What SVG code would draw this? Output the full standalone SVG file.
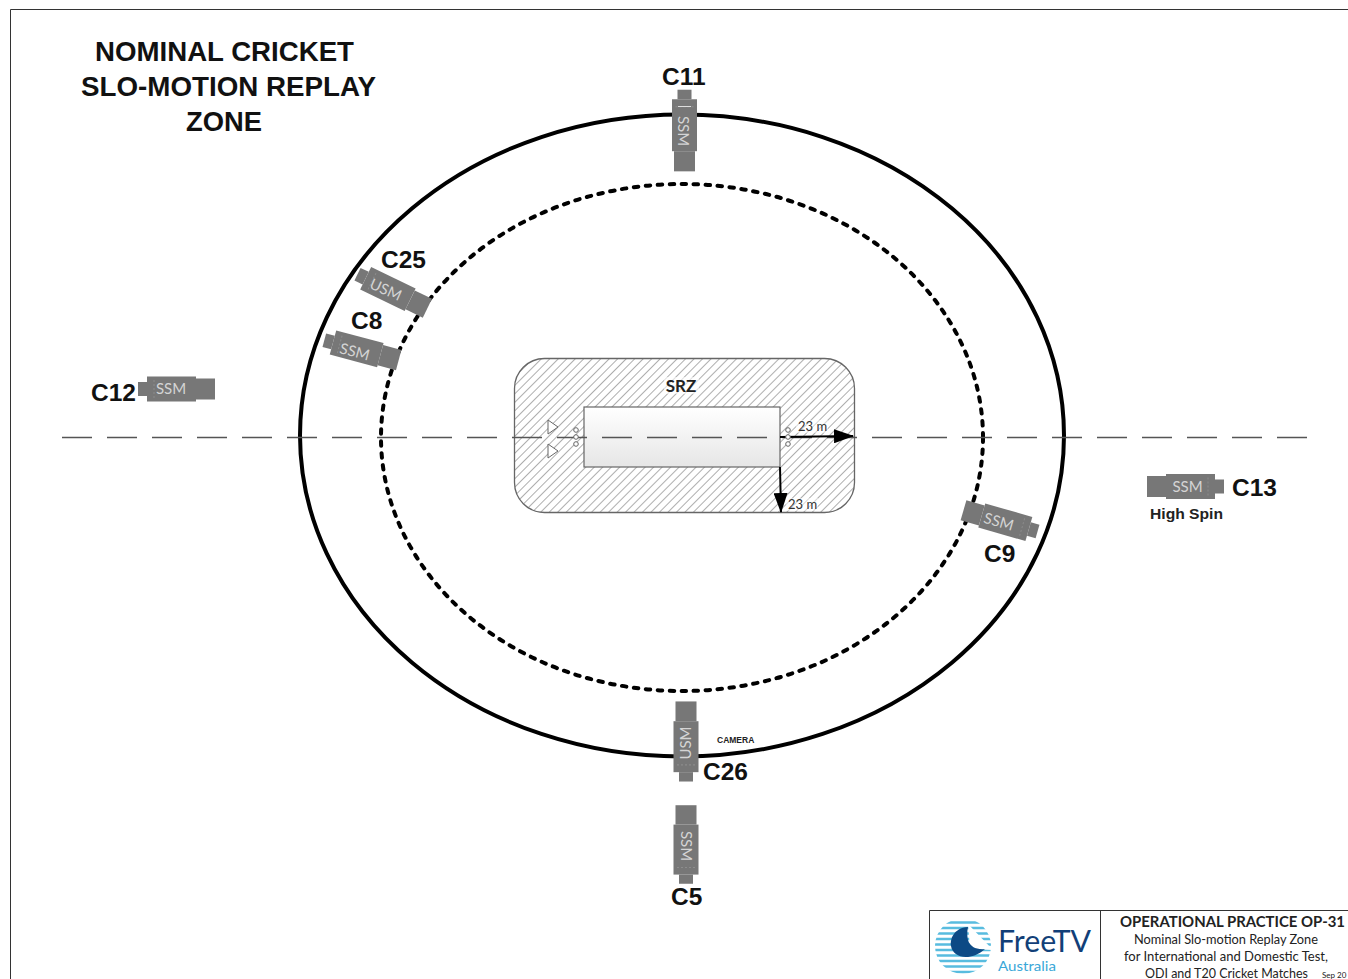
<svg xmlns="http://www.w3.org/2000/svg" width="1348" height="979" viewBox="0 0 1348 979">
<style>
.lab{font-family:"Liberation Sans",Arial,sans-serif;font-weight:700;font-size:24.500px;fill:#111}
.title{font-family:"Liberation Sans",Arial,sans-serif;font-weight:700;font-size:27px;fill:#111}
.cam{font-family:"Lato","Liberation Sans",sans-serif;font-size:15px;fill:#d4d4d4;text-anchor:middle;dominant-baseline:central}
.tb{font-family:"Lato","Noto Sans",sans-serif;font-size:13.500px;fill:#222}
.dim{font-family:"Lato","Liberation Sans",sans-serif;font-size:13px;fill:#333}
.body{fill:#777}
.seam{stroke:#8c8c8c;stroke-width:1;stroke-dasharray:2 2;fill:none}
</style>
<defs>
<pattern id="hatch" width="6" height="6" patternUnits="userSpaceOnUse" patternTransform="rotate(45)">
<line x1="0" y1="0" x2="0" y2="6" stroke="#777" stroke-width="1.200"/>
</pattern>
<linearGradient id="inner" x1="0" y1="0" x2="0" y2="1"><stop offset="0" stop-color="#fff"/><stop offset="1" stop-color="#e6e6e6"/></linearGradient>
<clipPath id="globeclip"><circle cx="963" cy="946" r="28"/></clipPath>
<marker id="ah" markerWidth="20" markerHeight="14" refX="19" refY="7" orient="auto" markerUnits="userSpaceOnUse"><path d="M0 0L20 7L0 14Z" fill="#000"/></marker>
<g id="camera">
<rect x="-39" y="-10.500" width="19" height="21" class="body"/>
<rect x="-20" y="-12.500" width="49" height="25" class="body"/>
<rect x="29" y="-7" width="9" height="14" class="body"/>
<line x1="22" y1="-9" x2="22" y2="9" class="seam"/>
</g>
</defs>

<g id="frame" fill="none" stroke="#333" stroke-width="1">
<path d="M10.500 979V9.500H1348"/>
</g>

<g id="title">
<text class="title" x="95" y="61" textLength="259" lengthAdjust="spacingAndGlyphs">NOMINAL CRICKET</text>
<text class="title" x="81" y="96" textLength="295" lengthAdjust="spacingAndGlyphs">SLO-MOTION REPLAY</text>
<text class="title" x="186" y="131" textLength="76" lengthAdjust="spacingAndGlyphs">ZONE</text>
</g>

<g id="srz">
<rect x="514.500" y="358.500" width="340" height="154" rx="30" fill="#fff"/>
<rect x="514.500" y="358.500" width="340" height="154" rx="30" fill="url(#hatch)" stroke="#666" stroke-width="1.300"/>
<rect x="584" y="407" width="196" height="60" fill="url(#inner)" stroke="#666" stroke-width="1.200"/>
<rect x="664" y="377" width="35" height="17" fill="#fff" fill-opacity="0.6"/>
<text x="681" y="392" font-family="Lato,'Liberation Sans',sans-serif" font-weight="700" font-size="17" fill="#222" text-anchor="middle">SRZ</text>
<rect x="796" y="420" width="32" height="13" fill="#fff" fill-opacity="0.5"/>
<rect x="786" y="498" width="32" height="13" fill="#fff" fill-opacity="0.5"/>
<text class="dim" x="798" y="431">23 m</text>
<text class="dim" x="788" y="509">23 m</text>
</g>

<g id="connectors" fill="none">
<ellipse id="outer-boundary" cx="682" cy="435.500" rx="382" ry="321" stroke="#000" stroke-width="4"/>
<ellipse id="inner-circle" cx="682" cy="437.500" rx="301" ry="253.500" stroke="#000" stroke-width="4" stroke-dasharray="4.500 7.500" stroke-linecap="round"/>
<line x1="62" y1="437.500" x2="1308" y2="437.500" stroke="#555" stroke-width="1.300" stroke-dasharray="30 15"/>
<line x1="780" y1="437" x2="853" y2="436" stroke="#000" stroke-width="2" marker-end="url(#ah)"/>
<line x1="780" y1="467" x2="781" y2="512" stroke="#000" stroke-width="2" marker-end="url(#ah)"/>
</g>

<g id="srz-marks" fill="#fff" stroke="#666" stroke-width="1">
<path d="M548 420L558 427L548 434Z"/><path d="M548 444L558 451L548 458Z"/>
<circle cx="576" cy="430" r="2.300"/><circle cx="576" cy="437" r="2.300"/><circle cx="576" cy="444" r="2.300"/>
<circle cx="788" cy="430" r="2.300"/><circle cx="788" cy="437" r="2.300"/><circle cx="788" cy="444" r="2.300"/>
</g>

<g id="C11">
<use href="#camera" transform="translate(684.500,130) rotate(-90) scale(1.060,1)"/>
<line x1="678" y1="106.500" x2="691" y2="106.500" stroke="#ddd" stroke-width="1"/>
<text class="cam" transform="translate(684,131) rotate(90)">SSM</text>
<text class="lab" x="662" y="85">C11</text>
</g>
<g id="C25">
<use href="#camera" transform="translate(392,291) rotate(26) scale(-1.010,1)"/>
<text class="cam" transform="translate(386,289) rotate(24)">USM</text>
<text class="lab" x="381" y="268">C25</text>
</g>
<g id="C8">
<use href="#camera" transform="translate(361,350) rotate(15) scale(-1,1)"/>
<text class="cam" transform="translate(355,351) rotate(15)">SSM</text>
<text class="lab" x="351" y="329">C8</text>
</g>
<g id="C12">
<use href="#camera" transform="translate(176,389) scale(-1,1)"/>
<text class="cam" x="171" y="388">SSM</text>
<text class="lab" x="91" y="401">C12</text>
</g>
<g id="C13">
<use href="#camera" transform="translate(1186,486.500)"/>
<text class="cam" x="1187.500" y="486">SSM</text>
<text class="lab" x="1232" y="496">C13</text>
<text x="1150" y="519" font-family="'Liberation Sans',Arial,sans-serif" font-weight="700" font-size="15" fill="#222" textLength="73" lengthAdjust="spacingAndGlyphs">High Spin</text>
</g>
<g id="C9">
<use href="#camera" transform="translate(1001,521) rotate(16)"/>
<text class="cam" transform="translate(999,521) rotate(16)">SSM</text>
<text class="lab" x="984" y="562">C9</text>
</g>
<g id="C26">
<use href="#camera" transform="translate(686,742) rotate(90) scale(1.040,1)"/>
<text class="cam" transform="translate(685,743) rotate(-90)">USM</text>
<text class="lab" x="703" y="780">C26</text>
<text x="717" y="743" font-family="'Liberation Sans',Arial,sans-serif" font-weight="700" font-size="8.500" fill="#222">CAMERA</text>
</g>
<g id="C5">
<use href="#camera" transform="translate(686,845) rotate(90) scale(1.020,1)"/>
<text class="cam" transform="translate(687,846) rotate(90)">SSM</text>
<text class="lab" x="671" y="905">C5</text>
</g>

<g id="title-block">
<path d="M929.500 979V910.500H1348M1100.500 910.500V979" fill="none" stroke="#333" stroke-width="1"/>
<g id="logo">
<g clip-path="url(#globeclip)" stroke="#58bcdf" stroke-width="2.600">
<path d="M934 922.500H992M934 928H992M934 933.500H992M934 939H992M934 944.500H992M934 950H992M934 955.500H992M934 961H992M934 966.500H992M934 972H992"/>
</g>
<path d="M968 924L993 950L970 949Z" fill="#fff"/>
<path d="M968 927C953 928 950 940 951 946C953 958 970 962 985 949C977 950 970 947 968 940C967 936 967 931 968 927Z" fill="#0d4a85"/>
<text x="998" y="952" font-family="Lato,'Liberation Sans',sans-serif" font-size="30" fill="#123f78" textLength="93" lengthAdjust="spacingAndGlyphs">FreeTV</text>
<text x="998" y="971" font-family="Lato,'Liberation Sans',sans-serif" font-size="14" fill="#3aa7d8" textLength="58" lengthAdjust="spacingAndGlyphs">Australia</text>
</g>
<text class="tb" x="1120" y="927" font-weight="700" textLength="225" lengthAdjust="spacingAndGlyphs" style="font-size:15px">OPERATIONAL PRACTICE OP-31</text>
<text class="tb" x="1134" y="944" textLength="184" lengthAdjust="spacingAndGlyphs">Nominal Slo-motion Replay Zone</text>
<text class="tb" x="1124" y="961" textLength="204" lengthAdjust="spacingAndGlyphs">for International and Domestic Test,</text>
<text class="tb" x="1145" y="978" textLength="163" lengthAdjust="spacingAndGlyphs">ODI and T20 Cricket Matches</text>
<text class="tb" x="1322" y="978" style="font-size:8px">Sep 20</text>
</g>
</svg>
